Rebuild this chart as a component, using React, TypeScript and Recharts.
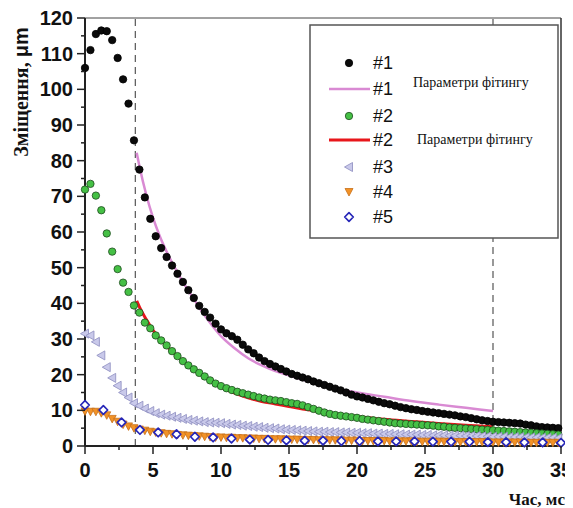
import { ComposedChart, Scatter, Line, XAxis, YAxis, ReferenceLine } from "recharts";

// time grid for the measured series, ms
const TIME = [
  0, 0.4, 0.8, 1.2, 1.6, 2, 2.4, 2.8, 3.2, 3.6, 4, 4.4, 4.8, 5.2, 5.6, 6, 6.4, 6.8, 7.2, 7.6, 8, 8.4, 8.8, 9.2, 9.6, 10,
  10.4, 10.8, 11.2, 11.6, 12, 12.4, 12.8, 13.2, 13.6, 14, 14.4, 14.8, 15.2, 15.6, 16, 16.4, 16.8, 17.2, 17.6, 18, 18.4, 18.8, 19.2, 19.6, 20,
  20.4, 20.8, 21.2, 21.6, 22, 22.4, 22.8, 23.2, 23.6, 24, 24.4, 24.8, 25.2, 25.6, 26, 26.4, 26.8, 27.2, 27.6, 28, 28.4, 28.8, 29.2, 29.6, 30,
  30.4, 30.8, 31.2, 31.6, 32, 32.4, 32.8, 33.2, 33.6, 34, 34.4, 34.8,
];

const S1 = [
  106, 111, 115.5, 116.5, 116.3, 113.8, 108.8, 102.8, 96, 85.7, 77.5, 69.7, 63.7, 58.8, 55.5, 53, 50.6, 48.3, 46, 43.7, 41.5, 39.3, 37.6, 36, 34.3, 32.7,
  31.6, 30.8, 29.8, 28.4, 27.1, 26, 24.8, 23.8, 23, 22.3, 21.6, 20.9, 20.2, 19.7, 19.2, 18.7, 18.1, 17.6, 17.1, 16.6, 16.1, 15.6, 15, 14.4, 13.9,
  13.6, 13.2, 12.8, 12.4, 12, 11.7, 11.3, 10.9, 10.6, 10.3, 10.1, 9.8, 9.6, 9.4, 9.2, 9, 8.8, 8.6, 8.3, 8.1, 7.8, 7.5, 7.2, 7, 6.8,
  6.7, 6.6, 6.5, 6.4, 6.3, 6, 5.8, 5.5, 5.3, 5.2, 5.1, 5,
];

const S2 = [
  71.9, 73.5, 70.2, 66.1, 59.6, 54.5, 49.6, 45.8, 43.2, 39.4, 37.4, 34.6, 33, 31, 29.6, 28.2, 26.6, 25.2, 23.8, 22.6, 21.5, 20.5, 19.5, 18.4, 17.5, 16.8,
  16.2, 15.7, 15.2, 14.8, 14.4, 14, 13.6, 13.3, 13, 12.8, 12.6, 12.3, 12, 11.8, 11.4, 10.9, 10.4, 9.9, 9.4, 9, 8.7, 8.5, 8.3, 8.1, 7.9,
  7.6, 7.4, 7.2, 7, 6.8, 6.6, 6.4, 6.3, 6.2, 6.1, 6, 5.9, 5.8, 5.7, 5.5, 5.4, 5.2, 5.1, 5, 4.9, 4.8, 4.7, 4.6, 4.5, 4.4,
  4.3, 4.2, 4.1, 4, 3.9, 3.8, 3.7, 3.6, 3.5, 3.4, 3.3, 3.2,
];

const S3 = [
  31.5, 31, 29.2, 25.4, 22.1, 19.1, 16.9, 15, 13.6, 12, 11.3, 10.5, 9.8, 9.2, 8.8, 8.5, 8.2, 7.9, 7.6, 7.3, 7.1, 6.9, 6.7, 6.6, 6.5, 6.4,
  6.2, 6, 5.9, 5.7, 5.6, 5.4, 5.3, 5.1, 5, 4.9, 4.7, 4.6, 4.5, 4.4, 4.3, 4.2, 4.1, 4, 4, 3.9, 3.9, 3.8, 3.8, 3.7, 3.7,
  3.6, 3.6, 3.5, 3.5, 3.4, 3.4, 3.3, 3.3, 3.2, 3.2, 3.2, 3.1, 3.1, 3, 3, 3, 2.9, 2.9, 2.9, 2.8, 2.8, 2.8, 2.7, 2.7, 2.6,
  2.6, 2.6, 2.5, 2.5, 2.5, 2.4, 2.4, 2.4, 2.3, 2.3, 2.3, 2.2,
];

const S4 = [
  9.7, 9.6, 9.6, 9.2, 8.6, 7.6, 6.8, 6, 5.5, 5, 4.6, 4.3, 4, 3.8, 3.6, 3.4, 3.3, 3.1, 3, 2.9, 2.8, 2.7, 2.6, 2.5, 2.4, 2.4,
  2.3, 2.3, 2.2, 2.2, 2.1, 2.1, 2, 2, 1.9, 1.9, 1.9, 1.8, 1.8, 1.8, 1.7, 1.7, 1.7, 1.6, 1.6, 1.6, 1.6, 1.5, 1.5, 1.5, 1.5,
  1.4, 1.4, 1.4, 1.4, 1.4, 1.3, 1.3, 1.3, 1.3, 1.3, 1.2, 1.2, 1.2, 1.2, 1.2, 1.2, 1.1, 1.1, 1.1, 1.1, 1.1, 1.1, 1.1, 1, 1,
  1, 1, 1, 1, 1, 0.9, 0.9, 0.9, 0.9, 0.9, 0.9, 0.9,
];

// #5 was sampled more sparsely
const TIME5 = [
  0, 1.35, 2.69, 4.04, 5.38, 6.73, 8.08, 9.42, 10.77, 12.12, 13.46, 14.81, 16.15, 17.5,
  18.85, 20.19, 21.54, 22.88, 24.23, 25.58, 26.92, 28.27, 29.62, 30.96, 32.31, 33.65, 35,
];
const S5 = [
  11.5, 10.1, 6.6, 4.5, 3.8, 3.3, 2.6, 2.4, 2.1, 1.8, 1.7, 1.6, 1.5, 1.5,
  1.4, 1.4, 1.3, 1.3, 1.3, 1.2, 1.2, 1.2, 1.1, 1.1, 1, 1, 0.9,
];

// fitted curves
const FIT_TIME = [3.8, 4, 4.5, 5, 5.5, 6, 7, 8, 9, 10, 11, 12, 13, 14, 15, 16, 17, 18, 19, 20, 22, 24, 26, 28, 30];
const FIT1 = [82.2, 78.5, 70.5, 64, 58.8, 54.5, 47.3, 41.2, 35.5, 30.8, 27.4, 24.6, 22.6, 21, 19.8, 18.6, 17.5, 16.6, 15.7, 15, 13.8, 12.6, 11.6, 10.7, 9.8];
const FIT2 = [40.7, 39, 35.5, 32.5, 30, 28, 24.5, 21.5, 18.8, 16.5, 14.8, 13.5, 12.5, 11.8, 11.1, 10.4, 9.8, 9.2, 8.7, 8.3, 7.5, 6.9, 6.3, 5.8, 5.4];

const X_TICKS = [0, 2.5, 5, 7.5, 10, 12.5, 15, 17.5, 20, 22.5, 25, 27.5, 30, 32.5, 35];
const Y_TICKS = [0, 5, 10, 15, 20, 25, 30, 35, 40, 45, 50, 55, 60, 65, 70, 75, 80, 85, 90, 95, 100, 105, 110, 115, 120];

const LEGEND = ["#1", "#1", "#2", "#2", "#3", "#4", "#5"];
const FIT_NOTE = "Параметри фітингу";

const pts = (xs: number[], ys: number[]) => xs.map((t, i) => ({ t, v: ys[i] }));

const SANS = "'Liberation Sans', Arial, sans-serif";
const SERIF = "'Liberation Serif', 'Times New Roman', serif";

const circle = (fill: string, stroke: string) => (cx: number, cy: number) => (
  <circle cx={cx} cy={cy} r={3.7} fill={fill} stroke={stroke} strokeWidth={0.8} />
);
const leftTri = (cx: number, cy: number) => (
  <polygon
    points={`${cx - 4.5},${cy} ${cx + 3.5},${cy - 4.5} ${cx + 3.5},${cy + 4.5}`}
    fill="#c9c9ea"
    stroke="#9494c4"
    strokeWidth={0.9}
  />
);
const downTri = (cx: number, cy: number) => (
  <polygon
    points={`${cx - 4},${cy - 3.5} ${cx + 4},${cy - 3.5} ${cx},${cy + 4}`}
    fill="#f29226"
    stroke="#c8701a"
    strokeWidth={0.8}
  />
);
const diamond = (cx: number, cy: number) => (
  <polygon
    points={`${cx},${cy - 4.3} ${cx + 4.3},${cy} ${cx},${cy + 4.3} ${cx - 4.3},${cy}`}
    fill="#fff"
    stroke="#2626b8"
    strokeWidth={1.7}
    strokeLinejoin="round"
  />
);

const blackDot = circle("#0a0a0a", "#000");
const greenDot = circle("#45c045", "#1e4a1e");

const shapeOf = (fn: (cx: number, cy: number) => any) => (p: any) => fn(p.cx, p.cy);

function XTick({ x, y, payload }: any) {
  const major = payload.value % 5 === 0;
  return (
    <g>
      <line x1={x} x2={x} y1={y} y2={y + (major ? 8 : 4)} stroke="#222" strokeWidth={1.5} />
      {major && (
        <text x={x} y={y + 31} textAnchor="middle" fontFamily={SANS} fontWeight="bold" fontSize={20} fill="#111">
          {payload.value}
        </text>
      )}
    </g>
  );
}

function YTick({ x, y, payload }: any) {
  const major = payload.value % 10 === 0;
  return (
    <g>
      <line x1={x - (major ? 8 : 4)} x2={x} y1={y} y2={y} stroke="#222" strokeWidth={1.5} />
      {major && (
        <text x={x - 12} y={y + 7} textAnchor="end" fontFamily={SANS} fontWeight="bold" fontSize={20} fill="#111">
          {payload.value}
        </text>
      )}
    </g>
  );
}

const ROW_Y = [38, 64, 91, 115, 142, 167, 192];

function LegendBox() {
  const markers = [
    blackDot(39, ROW_Y[0]),
    <line x1={19} x2={60} y1={ROW_Y[1]} y2={ROW_Y[1]} stroke="#d98ad3" strokeWidth={2.5} />,
    greenDot(39, ROW_Y[2]),
    <line x1={19} x2={60} y1={ROW_Y[3]} y2={ROW_Y[3]} stroke="#e8161b" strokeWidth={3} />,
    leftTri(39, ROW_Y[4]),
    downTri(39, ROW_Y[5]),
    diamond(39, ROW_Y[6]),
  ];
  return (
    <g transform="translate(302,17)">
      <rect x={0} y={0} width={248} height={213} fill="#fff" stroke="#555" strokeWidth={1.5} />
      {LEGEND.map((name, i) => (
        <g key={i}>
          {markers[i]}
          <text x={63} y={ROW_Y[i]} dominantBaseline="central" fontFamily={SANS} fontSize={18} fill="#111">
            {name}
          </text>
        </g>
      ))}
      <text x={103} y={57} dominantBaseline="central" fontFamily={SERIF} fontSize={14} fill="#111">
        {FIT_NOTE}
      </text>
      <text x={107} y={114} dominantBaseline="central" fontFamily={SERIF} fontSize={14} fill="#111">
        {FIT_NOTE}
      </text>
    </g>
  );
}

export default function App() {
  return (
    <div style={{ position: "relative", width: 565, height: 500 }}>
      <ComposedChart width={565} height={500} margin={{ top: 10, right: 12, bottom: 0, left: 0 }}>
        <XAxis
          dataKey="t"
          type="number"
          domain={[0, 35]}
          ticks={X_TICKS}
          interval={0}
          tickSize={0}
          tickMargin={0}
          tickLine={false}
          tick={<XTick />}
          height={62}
          axisLine={{ stroke: "#222", strokeWidth: 2 }}
        />
        <YAxis
          type="number"
          domain={[0, 120]}
          ticks={Y_TICKS}
          interval={0}
          tickSize={0}
          tickMargin={0}
          tickLine={false}
          tick={<YTick />}
          width={77}
          axisLine={{ stroke: "#222", strokeWidth: 2 }}
        />
        <ReferenceLine y={120} stroke="#444" strokeWidth={1} />
        <ReferenceLine x={35} stroke="#333" strokeWidth={1.5} />
        <ReferenceLine x={3.7} stroke="#555" strokeWidth={1.2} strokeDasharray="7 5" />
        <ReferenceLine x={30} stroke="#555" strokeWidth={1.2} strokeDasharray="7 5" />
        <Scatter data={pts(TIME, S1)} dataKey="v" shape={shapeOf(blackDot)} isAnimationActive={false} />
        <Line data={pts(FIT_TIME, FIT1)} dataKey="v" type="monotone" stroke="#d98ad3" strokeWidth={2.5} dot={false} isAnimationActive={false} />
        <Scatter data={pts(TIME, S2)} dataKey="v" shape={shapeOf(greenDot)} isAnimationActive={false} />
        <Line data={pts(FIT_TIME, FIT2)} dataKey="v" type="monotone" stroke="#e8161b" strokeWidth={3} dot={false} isAnimationActive={false} />
        <Scatter data={pts(TIME, S3)} dataKey="v" shape={shapeOf(leftTri)} isAnimationActive={false} />
        <Scatter data={pts(TIME, S4)} dataKey="v" shape={shapeOf(downTri)} isAnimationActive={false} />
        <Scatter data={pts(TIME5, S5)} dataKey="v" shape={shapeOf(diamond)} isAnimationActive={false} />
      </ComposedChart>
      <svg width={565} height={500} style={{ position: "absolute", left: 0, top: 0, pointerEvents: "none" }}>
        <LegendBox />
        <text transform="translate(13,84) rotate(-90)" textAnchor="middle" dominantBaseline="central" fontSize={20} fontWeight="bold" fill="#111">
          <tspan fontFamily={SERIF}>Зміщення, </tspan>
          <tspan fontFamily={SANS}>μm</tspan>
        </text>
        <text x={557} y={497} textAnchor="end" fontFamily={SERIF} fontWeight="bold" fontSize={17} fill="#111">
          Час, мс
        </text>
      </svg>
    </div>
  );
}
